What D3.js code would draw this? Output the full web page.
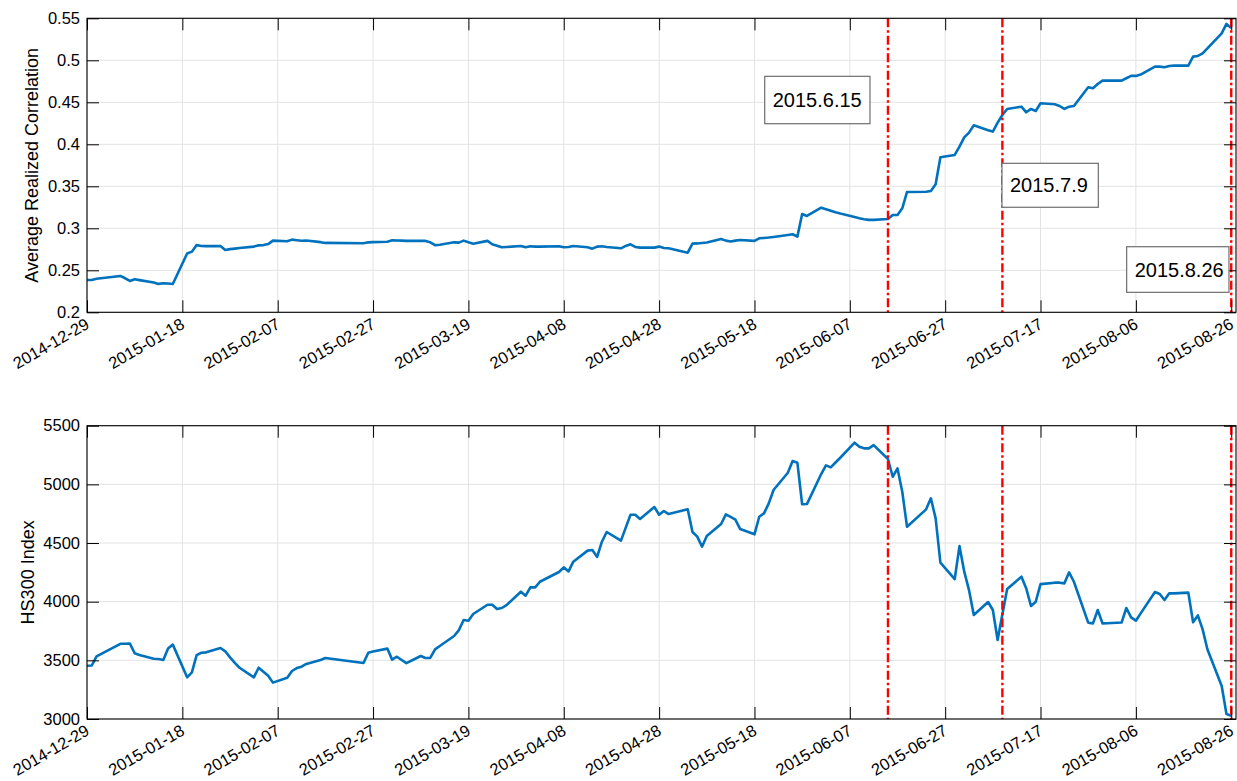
<!DOCTYPE html>
<html>
<head>
<meta charset="utf-8">
<script src="https://cdn.jsdelivr.net/npm/d3@7"></script>
<style>
  html, body { margin: 0; padding: 0; background: #fff; }
  svg { display: block; font-family: "Liberation Sans", Arial, Helvetica, sans-serif; }
</style>
</head>
<body>
<svg id="fig" width="1237" height="781"></svg>
<script>
// ---- data -------------------------------------------------------------
const tradingDays = [
  "2014-12-29","2014-12-30","2014-12-31",
  "2015-01-05","2015-01-06","2015-01-07","2015-01-08","2015-01-09",
  "2015-01-12","2015-01-13","2015-01-14","2015-01-15","2015-01-16",
  "2015-01-19","2015-01-20","2015-01-21","2015-01-22","2015-01-23",
  "2015-01-26","2015-01-27","2015-01-28","2015-01-29","2015-01-30",
  "2015-02-02","2015-02-03","2015-02-04","2015-02-05","2015-02-06",
  "2015-02-09","2015-02-10","2015-02-11","2015-02-12","2015-02-13",
  "2015-02-16","2015-02-17","2015-02-25","2015-02-26","2015-02-27",
  "2015-03-02","2015-03-03","2015-03-04","2015-03-05","2015-03-06",
  "2015-03-09","2015-03-10","2015-03-11","2015-03-12","2015-03-13",
  "2015-03-16","2015-03-17","2015-03-18","2015-03-19","2015-03-20",
  "2015-03-23","2015-03-24","2015-03-25","2015-03-26","2015-03-27",
  "2015-03-30","2015-03-31","2015-04-01","2015-04-02","2015-04-03",
  "2015-04-07","2015-04-08","2015-04-09","2015-04-10",
  "2015-04-13","2015-04-14","2015-04-15","2015-04-16","2015-04-17",
  "2015-04-20","2015-04-21","2015-04-22","2015-04-23","2015-04-24",
  "2015-04-27","2015-04-28","2015-04-29","2015-04-30",
  "2015-05-04","2015-05-05","2015-05-06","2015-05-07","2015-05-08",
  "2015-05-11","2015-05-12","2015-05-13","2015-05-14","2015-05-15",
  "2015-05-18","2015-05-19","2015-05-20","2015-05-21","2015-05-22",
  "2015-05-25","2015-05-26","2015-05-27","2015-05-28","2015-05-29",
  "2015-06-01","2015-06-02","2015-06-03","2015-06-04","2015-06-05",
  "2015-06-08","2015-06-09","2015-06-10","2015-06-11","2015-06-12",
  "2015-06-15","2015-06-16","2015-06-17","2015-06-18","2015-06-19",
  "2015-06-23","2015-06-24","2015-06-25","2015-06-26",
  "2015-06-29","2015-06-30","2015-07-01","2015-07-02","2015-07-03",
  "2015-07-06","2015-07-07","2015-07-08","2015-07-09","2015-07-10",
  "2015-07-13","2015-07-14","2015-07-15","2015-07-16","2015-07-17",
  "2015-07-20","2015-07-21","2015-07-22","2015-07-23","2015-07-24",
  "2015-07-27","2015-07-28","2015-07-29","2015-07-30","2015-07-31",
  "2015-08-03","2015-08-04","2015-08-05","2015-08-06","2015-08-07",
  "2015-08-10","2015-08-11","2015-08-12","2015-08-13","2015-08-14",
  "2015-08-17","2015-08-18","2015-08-19","2015-08-20","2015-08-21",
  "2015-08-24","2015-08-25","2015-08-26"
];

// average realized correlation, one value per trading day
const avgCorr = [
  0.2385,0.2385,0.2400,
  0.2433,0.2405,0.2373,0.2393,0.2383,
  0.2355,0.2338,0.2345,0.2342,0.2337,
  0.2700,0.2722,0.2800,0.2790,0.2788,
  0.2790,0.2742,0.2752,0.2758,0.2765,
  0.2782,0.2797,0.2800,0.2812,0.2853,
  0.2845,0.2865,0.2858,0.2852,0.2855,
  0.2835,0.2826,0.2822,0.2833,0.2835,
  0.2840,0.2857,0.2855,0.2853,0.2850,
  0.2852,0.2850,0.2833,0.2800,0.2805,
  0.2833,0.2830,0.2853,0.2833,0.2817,
  0.2850,0.2810,0.2793,0.2774,0.2778,
  0.2790,0.2774,0.2786,0.2782,0.2782,
  0.2786,0.2774,0.2778,0.2790,
  0.2774,0.2758,0.2782,0.2786,0.2778,
  0.2762,0.2790,0.2810,0.2778,0.2770,
  0.2770,0.2782,0.2766,0.2762,
  0.2710,0.2817,0.2820,0.2825,0.2830,
  0.2873,0.2853,0.2842,0.2853,0.2860,
  0.2850,0.2881,0.2885,0.2890,0.2897,
  0.2921,0.2929,0.2901,0.3170,0.3147,
  0.3246,0.3228,0.3210,0.3190,0.3175,
  0.3135,0.3120,0.3108,0.3100,0.3100,
  0.3111,0.3159,0.3159,0.3238,0.3433,
  0.3435,0.3445,0.3524,0.3845,
  0.3873,0.3972,0.4083,0.4139,0.4226,
  0.4167,0.4151,0.4258,0.4349,0.4421,
  0.4448,0.4381,0.4421,0.4397,0.4488,
  0.4476,0.4456,0.4421,0.4448,0.4456,
  0.4679,0.4667,0.4718,0.4758,0.4760,
  0.4758,0.4786,0.4814,0.4814,0.4830,
  0.4925,0.4925,0.4917,0.4933,0.4937,
  0.4937,0.5044,0.5052,0.5083,0.5143,
  0.5321,0.5433,0.5385
];

// HS300 index close, one value per trading day
const hs300 = [
  3454,3456,3533,
  3641,3642,3643,3560,3545,
  3514,3511,3503,3600,3634,
  3355,3397,3545,3565,3568,
  3605,3577,3525,3478,3437,
  3355,3437,3403,3369,3310,
  3352,3409,3434,3446,3469,
  3503,3520,3477,3565,3575,
  3600,3506,3531,3503,3476,
  3537,3520,3520,3594,3622,
  3707,3758,3844,3838,3895,
  3974,3974,3937,3946,3971,
  4085,4051,4122,4122,4170,
  4253,4293,4258,4341,
  4435,4440,4381,4511,4594,
  4520,4631,4741,4741,4705,
  4807,4741,4773,4747,
  4787,4594,4554,4469,4560,
  4662,4744,4722,4699,4619,
  4574,4724,4753,4838,4952,
  5099,5199,5185,4830,4832,
  5088,5162,5145,5186,5227,
  5355,5321,5307,5307,5335,
  5216,5065,5136,4937,4639,
  4787,4881,4710,4332,
  4193,4474,4256,4099,3886,
  3997,3929,3673,3892,4108,
  4213,4113,3963,4000,4150,
  4162,4162,4156,4250,4170,
  3821,3815,3929,3815,3816,
  3822,3946,3866,3838,3900,
  4082,4065,4014,4071,4071,
  4077,3824,3883,3764,3594,
  3281,3043,3028
];

const eventDates  = ["2015-06-15", "2015-07-09", "2015-08-26"];
const eventLabels = ["2015.6.15", "2015.7.9", "2015.8.26"];

const xTickDates = [
  "2014-12-29","2015-01-18","2015-02-07","2015-02-27","2015-03-19",
  "2015-04-08","2015-04-28","2015-05-18","2015-06-07","2015-06-27",
  "2015-07-17","2015-08-06","2015-08-26"
];
const xLimits   = ["2014-12-29", "2015-08-27"];
const corrTicks = [0.2, 0.25, 0.3, 0.35, 0.4, 0.45, 0.5, 0.55];
const hsTicks   = [3000, 3500, 4000, 4500, 5000, 5500];

// ---- layout -----------------------------------------------------------
const W = 1237, H = 781;
const LEFT = 87, RIGHT = 1236;
const TICK_LEN = 12;
const LINE_BLUE = "#0072BD";
const GRID = "#e3e3e3";
const FONT_TICK = "16.5px";
const FONT_LABEL = "18px";

// text boxes in normalized figure units [left, top, width, height]
const noteBoxes = [
  [0.6182, 0.0977, 0.0851, 0.0607],
  [0.8100, 0.2091, 0.0779, 0.0563],
  [0.9108, 0.3159, 0.0827, 0.0584]
];

const parse = d3.utcParse("%Y-%m-%d");
const fmtTick = d3.utcFormat("%Y-%m-%d");
const days = tradingDays.map(parse);

const svg = d3.select("#fig");
svg.append("rect").attr("width", W).attr("height", H).attr("fill", "#fff");

function drawPanel(opts) {
  const { top, bottom, yDomain, yTicks, yFormat, series, yLabel } = opts;
  const g = svg.append("g");

  const x = d3.scaleUtc().domain(xLimits.map(parse)).range([LEFT, RIGHT]);
  const y = d3.scaleLinear().domain(yDomain).range([bottom, top]);
  const xTicks = xTickDates.map(parse);

  // grid
  const grid = g.append("g").attr("stroke", GRID).attr("stroke-width", 1);
  grid.selectAll(".gx").data(xTicks).join("line")
    .attr("x1", d => x(d)).attr("x2", d => x(d))
    .attr("y1", top).attr("y2", bottom);
  grid.selectAll(".gy").data(yTicks).join("line")
    .attr("x1", LEFT).attr("x2", RIGHT)
    .attr("y1", d => y(d)).attr("y2", d => y(d));

  // series
  const line = d3.line()
    .x((d, i) => x(days[i]))
    .y(d => y(d));
  g.append("path")
    .datum(series)
    .attr("fill", "none")
    .attr("stroke", LINE_BLUE)
    .attr("stroke-width", 2.6)
    .attr("stroke-linejoin", "round")
    .attr("d", line);

  // event markers
  g.append("g").selectAll("line").data(eventDates.map(parse)).join("line")
    .attr("x1", d => x(d)).attr("x2", d => x(d))
    .attr("y1", top).attr("y2", bottom)
    .attr("stroke", "#ff0000")
    .attr("stroke-width", 2.4)
    .attr("stroke-dasharray", "9,3,2.5,3");

  // axes: ticks pointing inward on all four sides
  const axL = g.append("g").attr("transform", `translate(${LEFT},0)`)
    .call(d3.axisLeft(y).tickValues(yTicks).tickFormat(yFormat)
      .tickSize(-TICK_LEN).tickPadding(7));
  const axR = g.append("g").attr("transform", `translate(${RIGHT},0)`)
    .call(d3.axisRight(y).tickValues(yTicks).tickFormat("")
      .tickSize(-TICK_LEN));
  const axT = g.append("g").attr("transform", `translate(0,${top})`)
    .call(d3.axisTop(x).tickValues(xTicks).tickFormat("")
      .tickSize(-TICK_LEN));
  const axB = g.append("g").attr("transform", `translate(0,${bottom})`)
    .call(d3.axisBottom(x).tickValues(xTicks).tickFormat(fmtTick)
      .tickSize(-TICK_LEN).tickPadding(0));

  [axL, axR, axT, axB].forEach(a => {
    a.attr("font-size", null).attr("font-family", null);
    a.select(".domain").remove();
    a.selectAll(".tick line").attr("stroke", "#000").attr("stroke-width", 1);
  });
  axL.selectAll("text")
    .style("font-size", FONT_TICK).attr("fill", "#000");
  // rotated date labels, right end centred on the tick
  axB.selectAll("text")
    .style("font-size", FONT_TICK).attr("fill", "#000")
    .attr("text-anchor", "end")
    .attr("dy", "0.35em")
    .attr("y", 0)
    .attr("transform", "translate(0,10) rotate(-30)");

  // box
  g.append("rect")
    .attr("x", LEFT).attr("y", top)
    .attr("width", RIGHT - LEFT).attr("height", bottom - top)
    .attr("fill", "none").attr("stroke", "#000").attr("stroke-width", 1.1);

  // y label
  const cx = opts.yLabelX;
  g.append("text")
    .attr("transform", `translate(${cx},${(top + bottom) / 2}) rotate(-90)`)
    .attr("text-anchor", "middle")
    .attr("dominant-baseline", "central")
    .style("font-size", FONT_LABEL)
    .attr("fill", "#000")
    .text(yLabel);
}

drawPanel({
  top: 18.3, bottom: 312.3,
  yDomain: [0.2, 0.55], yTicks: corrTicks, yFormat: d => String(d),
  series: avgCorr, yLabel: "Average Realized Correlation", yLabelX: 32
});

drawPanel({
  top: 425.7, bottom: 719,
  yDomain: [3000, 5500], yTicks: hsTicks, yFormat: d => String(d),
  series: hs300, yLabel: "HS300 Index", yLabelX: 28
});

// annotation text boxes for the event dates
const notes = svg.append("g");
noteBoxes.forEach((b, i) => {
  const bx = b[0] * W, by = b[1] * H, bw = b[2] * W, bh = b[3] * H;
  notes.append("rect")
    .attr("x", bx).attr("y", by).attr("width", bw).attr("height", bh)
    .attr("fill", "#fff").attr("stroke", "#6e6e6e").attr("stroke-width", 1.2);
  notes.append("text")
    .attr("x", bx + 8).attr("y", by + bh / 2 + 7)
    .style("font-size", "20px").attr("fill", "#000")
    .text(eventLabels[i]);
});
</script>
</body>
</html>
